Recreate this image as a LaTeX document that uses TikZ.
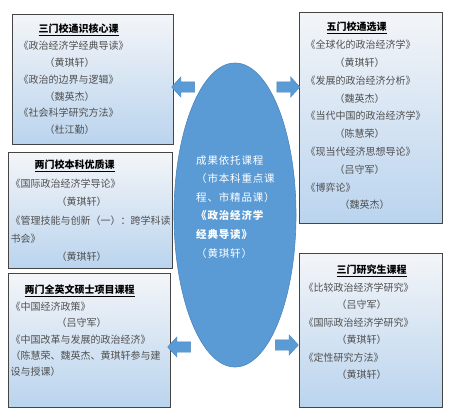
\documentclass[tikz,border=0pt]{standalone}
\usepackage{fontspec}
\setmainfont{Noto Sans CJK SC}
\newfontfamily\widecjk[LetterSpace=8]{Noto Sans CJK SC}
\usepackage{xcolor}
\definecolor{skyblue}{HTML}{5B9BD5}
\definecolor{skyedge}{HTML}{4A86BF}
\definecolor{boxtop}{HTML}{F3F5F8}
\definecolor{boxbot}{HTML}{BAD4EE}
\definecolor{frame}{HTML}{454545}
\definecolor{ink}{HTML}{505050}
\usepackage{tikz}
\usetikzlibrary{shapes.geometric,shapes.arrows}
\newcommand{\coursetitle}[1]{\textcolor{black}{\underline{\bfseries #1}}}

\begin{document}
\begin{tikzpicture}[x=1bp,y=-1bp,
  coursebox/.style={draw=frame,line width=0.8bp,top color=boxtop,bottom color=boxbot,inner sep=0,anchor=north west},
  courselist/.style={ink,align=left,anchor=north west,inner sep=0,font=\fontsize{10bp}{#1}\selectfont},
  hub/.style={ellipse,fill=skyblue,draw=skyedge,line width=0.6bp,inner sep=0},
  hubarrow/.style={single arrow,fill=skyblue,draw=skyedge,line width=0.4bp,minimum height=23bp,inner xsep=0,inner ysep=5bp,single arrow head extend=5bp,single arrow tip angle=95}]
  \useasboundingbox (0,0) rectangle (453,419);
  % five course boxes
  \node[coursebox,minimum width=161bp,minimum height=130bp] (tongshi) at (12,14) {};
  \node[coursebox,minimum width=164bp,minimum height=116bp] (youzhi) at (8,152) {};
  \node[coursebox,minimum width=162bp,minimum height=134bp] (shuoshi) at (8,273) {};
  \node[coursebox,minimum width=143bp,minimum height=211bp] (tongxuan) at (299,12) {};
  \node[coursebox,minimum width=143bp,minimum height=154bp] (yanjiu) at (299,253) {};
  % box texts
  \node[courselist=16.8bp] (tongshi-t) at (18.5,24) {%
    \hspace*{20bp}\coursetitle{三门校通识核心课}\\
    《政治经济学经典导读》\\
    \hspace*{26bp}（黄琪轩）\\
    《政治的边界与逻辑》\\
    \hspace*{26bp}（魏英杰）\\
    《社会科学研究方法》\\
    \hspace*{26bp}（杜江勤）};
  \node[courselist=18.4bp] (youzhi-t) at (10.5,160) {%
    \hspace*{24bp}\coursetitle{两门校本科优质课}\\
    《国际政治经济学导论》\\
    \hspace*{46bp}（黄琪轩）\\
    《管理技能与创新（一）：跨学科读\\
    书会》\\
    \hspace*{46bp}（黄琪轩）};
  \node[courselist=16.4bp] (shuoshi-t) at (10.5,285) {%
    \hspace*{14bp}\coursetitle{两门全英文硕士项目课程}\\
    《中国经济政策》\\
    \hspace*{46bp}（吕守军）\\
    《中国改革与发展的政治经济》\\
    （陈慧荣、魏英杰、黄琪轩参与建\\
    设与授课）};
  \node[courselist=17.8bp] (tongxuan-t) at (305.5,22) {%
    \hspace*{21bp}\coursetitle{五门校通选课}\\
    《全球化的政治经济学》\\
    \hspace*{29bp}（黄琪轩）\\
    《发展的政治经济分析》\\
    \hspace*{29bp}（魏英杰）\\
    《当代中国的政治经济学》\\
    \hspace*{29bp}（陈慧荣）\\
    《现当代经济思想导论》\\
    \hspace*{29bp}（吕守军）\\
    《博弈论》\\
    \hspace*{34bp}（魏英杰）};
  \node[courselist=17.5bp] (yanjiu-t) at (303.5,265) {%
    \hspace*{33bp}\coursetitle{三门研究生课程}\\
    《比较政治经济学研究》\\
    \hspace*{33bp}（吕守军）\\
    《国际政治经济学研究》\\
    \hspace*{33bp}（黄琪轩）\\
    《定性研究方法》\\
    \hspace*{33bp}（黄琪轩）};
  % central ellipse
  \node[hub,minimum width=122bp,minimum height=304bp] (chengguo) at (235,215) {};
  \node[white,align=left,anchor=north west,inner sep=0,font=\widecjk\fontsize{10.5bp}{18.6bp}\selectfont] (chengguo-t) at (196,155) {%
    成果依托课程\\
    （市本科重点课\\
    程、市精品课）\\
    \textbf{《政治经济学}\\
    \textbf{经典导读》}\\
    （黄琪轩）};
  % block arrows
  \node[hubarrow,shape border rotate=180] (arr-tl) at (185.5,87) {};
  \node[hubarrow] (arr-tr) at (286,87) {};
  \node[hubarrow,shape border rotate=180] (arr-bl) at (181.5,347) {};
  \node[hubarrow] (arr-br) at (284.5,345) {};
\end{tikzpicture}
\end{document}
